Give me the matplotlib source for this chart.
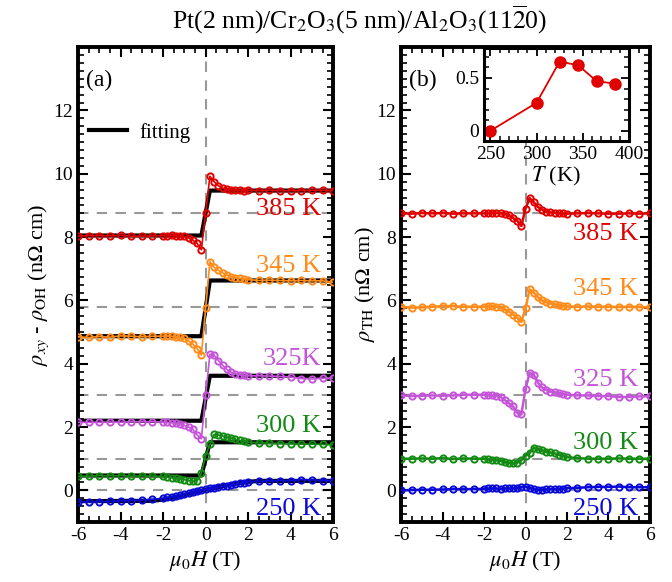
import numpy as np
import matplotlib
matplotlib.use('Agg')
from matplotlib import pyplot as plt
from matplotlib.lines import Line2D
from matplotlib.ticker import MultipleLocator

plt.rcParams['font.family'] = ['Liberation Serif', 'DejaVu Serif']
plt.rcParams['mathtext.fontset'] = 'stix'

# field sweep (T)
H = [-6, -5.5, -5, -4.5, -4, -3.5, -3, -2.5, -2,
     -1.8, -1.6, -1.4, -1.2, -1.0, -0.8, -0.6, -0.4, -0.2,
     0,
     0.2, 0.4, 0.6, 0.8, 1.0, 1.2, 1.4, 1.6, 1.8, 2.0,
     2.5, 3, 3.5, 4, 4.5, 5, 5.5, 6]

temps = ['385 K', '345 K', '325K', '300 K', '250 K']
temps_b = ['385 K', '345 K', '325 K', '300 K', '250 K']
colors = ['#e00000', '#ff8c1a', '#c455d8', '#138a13', '#0a0ad8']

# (a) rho_xy - rho_OH (nOhm cm), offset
rxy_385 = [8.03, 8.05, 8.05, 8.04, 8.06, 8.03, 8.03, 8.04, 8.05,
           8.05, 8.06, 8.05, 8.04, 8.02, 7.97, 7.90, 7.80, 7.60,
           8.75,
           9.92, 9.75, 9.62, 9.55, 9.52, 9.50, 9.49, 9.48, 9.47, 9.48,
           9.47, 9.48, 9.47, 9.47, 9.47, 9.48, 9.48, 9.47]
rxy_345 = [4.85, 4.83, 4.86, 4.84, 4.88, 4.87, 4.85, 4.87, 4.87,
           4.88, 4.87, 4.85, 4.83, 4.80, 4.72, 4.62, 4.48, 4.27,
           5.75,
           7.22, 7.05, 6.95, 6.87, 6.80, 6.75, 6.72, 6.70, 6.68, 6.66,
           6.63, 6.64, 6.63, 6.62, 6.63, 6.62, 6.62, 6.57]
rxy_325 = [2.15, 2.15, 2.15, 2.16, 2.15, 2.17, 2.17, 2.17, 2.16,
           2.15, 2.14, 2.12, 2.10, 2.05, 2.00, 1.93, 1.75, 1.63,
           3.00,
           4.30, 4.27, 4.10, 3.95, 3.82, 3.73, 3.68, 3.65, 3.63, 3.62,
           3.62, 3.61, 3.60, 3.58, 3.53, 3.52, 3.54, 3.55]
rxy_300 = [0.44, 0.45, 0.47, 0.46, 0.47, 0.45, 0.46, 0.45, 0.44,
           0.42, 0.40, 0.38, 0.36, 0.34, 0.31, 0.29, 0.30, 0.55,
           1.10,
           1.45, 1.77, 1.75, 1.72, 1.68, 1.65, 1.62, 1.58, 1.55, 1.52,
           1.50, 1.49, 1.48, 1.47, 1.46, 1.46, 1.45, 1.44]
rxy_250 = [-0.36, -0.37, -0.36, -0.35, -0.33, -0.32, -0.31, -0.28, -0.25,
           -0.22, -0.20, -0.18, -0.15, -0.12, -0.09, -0.06, -0.03, 0.00,
           0.03,
           0.06, 0.08, 0.10, 0.13, 0.15, 0.18, 0.20, 0.22, 0.24, 0.27,
           0.29, 0.30, 0.31, 0.31, 0.34, 0.33, 0.31, 0.31]
rxy = [rxy_385, rxy_345, rxy_325, rxy_300, rxy_250]

# fitting curves
fit_H = [-6, -0.2, 0.2, 6]
fit_385 = [8.05, 8.05, 9.47, 9.47]
fit_345 = [4.87, 4.87, 6.63, 6.63]
fit_325 = [2.20, 2.20, 3.62, 3.62]
fit_300 = [0.47, 0.47, 1.52, 1.52]
fit_H250 = [-6, -2.5, -2, -1.5, -1, -0.5, 0, 0.5, 1, 1.5, 2, 2.5, 6]
fit_250 = [-0.34, -0.33, -0.29, -0.22, -0.14, -0.06, 0.02, 0.09, 0.16, 0.22, 0.27, 0.30, 0.30]

# (b) rho_TH (nOhm cm), offset
th_385 = [8.75, 8.74, 8.76, 8.75, 8.76, 8.74, 8.75, 8.75, 8.75,
          8.76, 8.77, 8.77, 8.75, 8.74, 8.70, 8.60, 8.52, 8.35,
          8.90,
          9.23, 9.10, 8.95, 8.87, 8.80, 8.78, 8.77, 8.75, 8.75, 8.74,
          8.75, 8.76, 8.75, 8.74, 8.74, 8.75, 8.74, 8.75]
th_345 = [5.80, 5.77, 5.78, 5.80, 5.82, 5.82, 5.80, 5.80, 5.80,
          5.82, 5.82, 5.80, 5.78, 5.72, 5.65, 5.55, 5.45, 5.32,
          5.75,
          6.35, 6.25, 6.10, 6.00, 5.95, 5.90, 5.88, 5.85, 5.83, 5.81,
          5.80, 5.81, 5.80, 5.80, 5.79, 5.80, 5.79, 5.78]
th_325 = [3.00, 2.98, 2.99, 3.00, 2.99, 3.00, 3.02, 3.02, 3.02,
          3.02, 3.00, 2.98, 2.95, 2.85, 2.75, 2.65, 2.45, 2.40,
          3.20,
          3.71, 3.65, 3.40, 3.25, 3.18, 3.12, 3.10, 3.07, 3.05, 3.02,
          3.00, 3.00, 2.98, 2.98, 2.95, 2.95, 2.97, 2.97]
th_300 = [1.00, 1.00, 1.01, 1.00, 1.02, 0.99, 1.01, 1.00, 1.00,
          0.98, 0.97, 0.95, 0.93, 0.90, 0.87, 0.85, 0.88, 0.95,
          1.10,
          1.18, 1.35, 1.30, 1.27, 1.22, 1.20, 1.17, 1.13, 1.10, 1.05,
          1.02, 1.00, 1.00, 1.00, 1.01, 1.00, 1.00, 1.00]
th_250 = [0.00, 0.01, 0.02, 0.02, 0.03, 0.04, 0.04, 0.04, 0.05,
          0.06, 0.06, 0.06, 0.05, 0.06, 0.06, 0.07, 0.08, 0.10,
          0.12,
          0.08, 0.04, 0.02, 0.02, 0.03, 0.04, 0.04, 0.05, 0.05, 0.07,
          0.08, 0.10, 0.11, 0.11, 0.12, 0.10, 0.10, 0.10]
th = [th_385, th_345, th_325, th_300, th_250]

baselines = [8.75, 5.8, 3.0, 1.0, 0.0]

# label positions (data coords, right aligned)
lab_y_a = [8.9, 7.1, 4.15, 2.03, -0.6]
lab_y_b = [8.1, 6.35, 3.5, 1.5, -0.6]

# inset
T_ins = [250, 300, 325, 345, 365, 385]
amp_ins = [0.0, 0.265, 0.655, 0.62, 0.47, 0.445]


def style(ax, fs=14):
    ax.set_xlim(-6, 6)
    ax.set_ylim(-1, 14)
    ax.xaxis.set_major_locator(MultipleLocator(2))
    ax.xaxis.set_minor_locator(MultipleLocator(0.5))
    ax.yaxis.set_major_locator(MultipleLocator(2))
    ax.yaxis.set_minor_locator(MultipleLocator(0.25))
    ax.set_yticks([0, 2, 4, 6, 8, 10, 12])
    ax.tick_params(which='both', direction='in', top=True, right=True, labelsize=fs)
    ax.tick_params(which='major', length=7, width=1.5)
    ax.tick_params(which='minor', length=4, width=1.2)
    for s in ax.spines.values():
        s.set_linewidth(2.8)
    ax.axvline(0, color='#999999', lw=1.5, ls=(0, (5, 4)), zorder=1)
    for b in baselines:
        ax.axhline(b, color='#999999', lw=1.5, ls=(0, (5, 4)), zorder=1)
    ax.set_xticks([-6, -4, -2, 0, 2, 4, 6])
    ax.set_xticklabels(['-6', '-4', '-2', '0', '2', '4', '6'])
    ax.set_xlabel(r'$\mu_0H$ (T)', fontsize=16, labelpad=4)


fig = plt.figure(figsize=(6.72, 5.82), dpi=100)
ax1 = fig.add_axes([0.116, 0.103, 0.380, 0.816])
ax2 = fig.add_axes([0.597, 0.103, 0.370, 0.816])

# (a)
style(ax1)
ax1.plot(fit_H, fit_385, color='black', lw=3, zorder=2)
ax1.plot(fit_H, fit_345, color='black', lw=3, zorder=2)
ax1.plot(fit_H, fit_325, color='black', lw=3, zorder=2)
ax1.plot(fit_H, fit_300, color='black', lw=3, zorder=2)
ax1.plot(fit_H250, fit_250, color='black', lw=3, zorder=2)
for y, c, lab, ly in zip(rxy, colors, temps, lab_y_a):
    ax1.plot(H, y, '-o', color=c, lw=1.2, ms=4.5, mfc='none', mew=1.4, zorder=3)
    ax1.text(5.45, ly, lab, color=c, fontsize=19, ha='right', va='center')
ax1.text(-5.6, 12.95, '(a)', fontsize=17, va='center')
ax1.set_ylabel(r'$\rho_{xy}$ - $\rho_{\rm OH}$ (n$\Omega$ cm)', fontsize=16, labelpad=2)
ax1.legend(handles=[Line2D([], [], color='black', lw=3)], labels=['fitting'],
           loc='center left', bbox_to_anchor=(-0.03, 0.82), frameon=False,
           fontsize=15, handlelength=1.8, handletextpad=0.6)

# (b)
style(ax2)
for y, c, lab, ly in zip(th, colors, temps_b, lab_y_b):
    ax2.plot(H, y, '-o', color=c, lw=1.8, ms=4.5, mfc='none', mew=1.4, zorder=3)
    ax2.text(5.45, ly, lab, color=c, fontsize=19, ha='right', va='center')
ax2.text(-5.6, 12.95, '(b)', fontsize=17, va='center')
ax2.set_ylabel(r'$\rho_{\rm TH}$ (n$\Omega$ cm)', fontsize=16, labelpad=0)

# inset
axi = fig.add_axes([0.720, 0.757, 0.216, 0.160])
axi.plot(T_ins, amp_ins, '-o', color='#e00000', lw=1.3, ms=8)
axi.set_xlim(243, 400)
axi.set_ylim(-0.1, 0.78)
axi.set_xticks([250, 300, 350, 400])
axi.set_yticks([0, 0.5])
axi.set_yticklabels(['0', '0.5'])
axi.xaxis.set_minor_locator(MultipleLocator(10))
axi.yaxis.set_minor_locator(MultipleLocator(0.1))
axi.tick_params(which='both', direction='in', top=True, right=True, labelsize=14)
axi.tick_params(which='major', length=6, width=1.3)
axi.tick_params(which='minor', length=3.5, width=1.1)
for s in axi.spines.values():
    s.set_linewidth(2.2)
axi.set_xlabel(r'$T$ (K)', fontsize=16, labelpad=1)

fig.text(0.535, 0.966, r'Pt(2 nm)/Cr$_2$O$_3$(5 nm)/Al$_2$O$_3$(11$\overline{2}$0)',
         ha='center', va='center', fontsize=18.5)

fig.savefig('out.png', dpi=100)
